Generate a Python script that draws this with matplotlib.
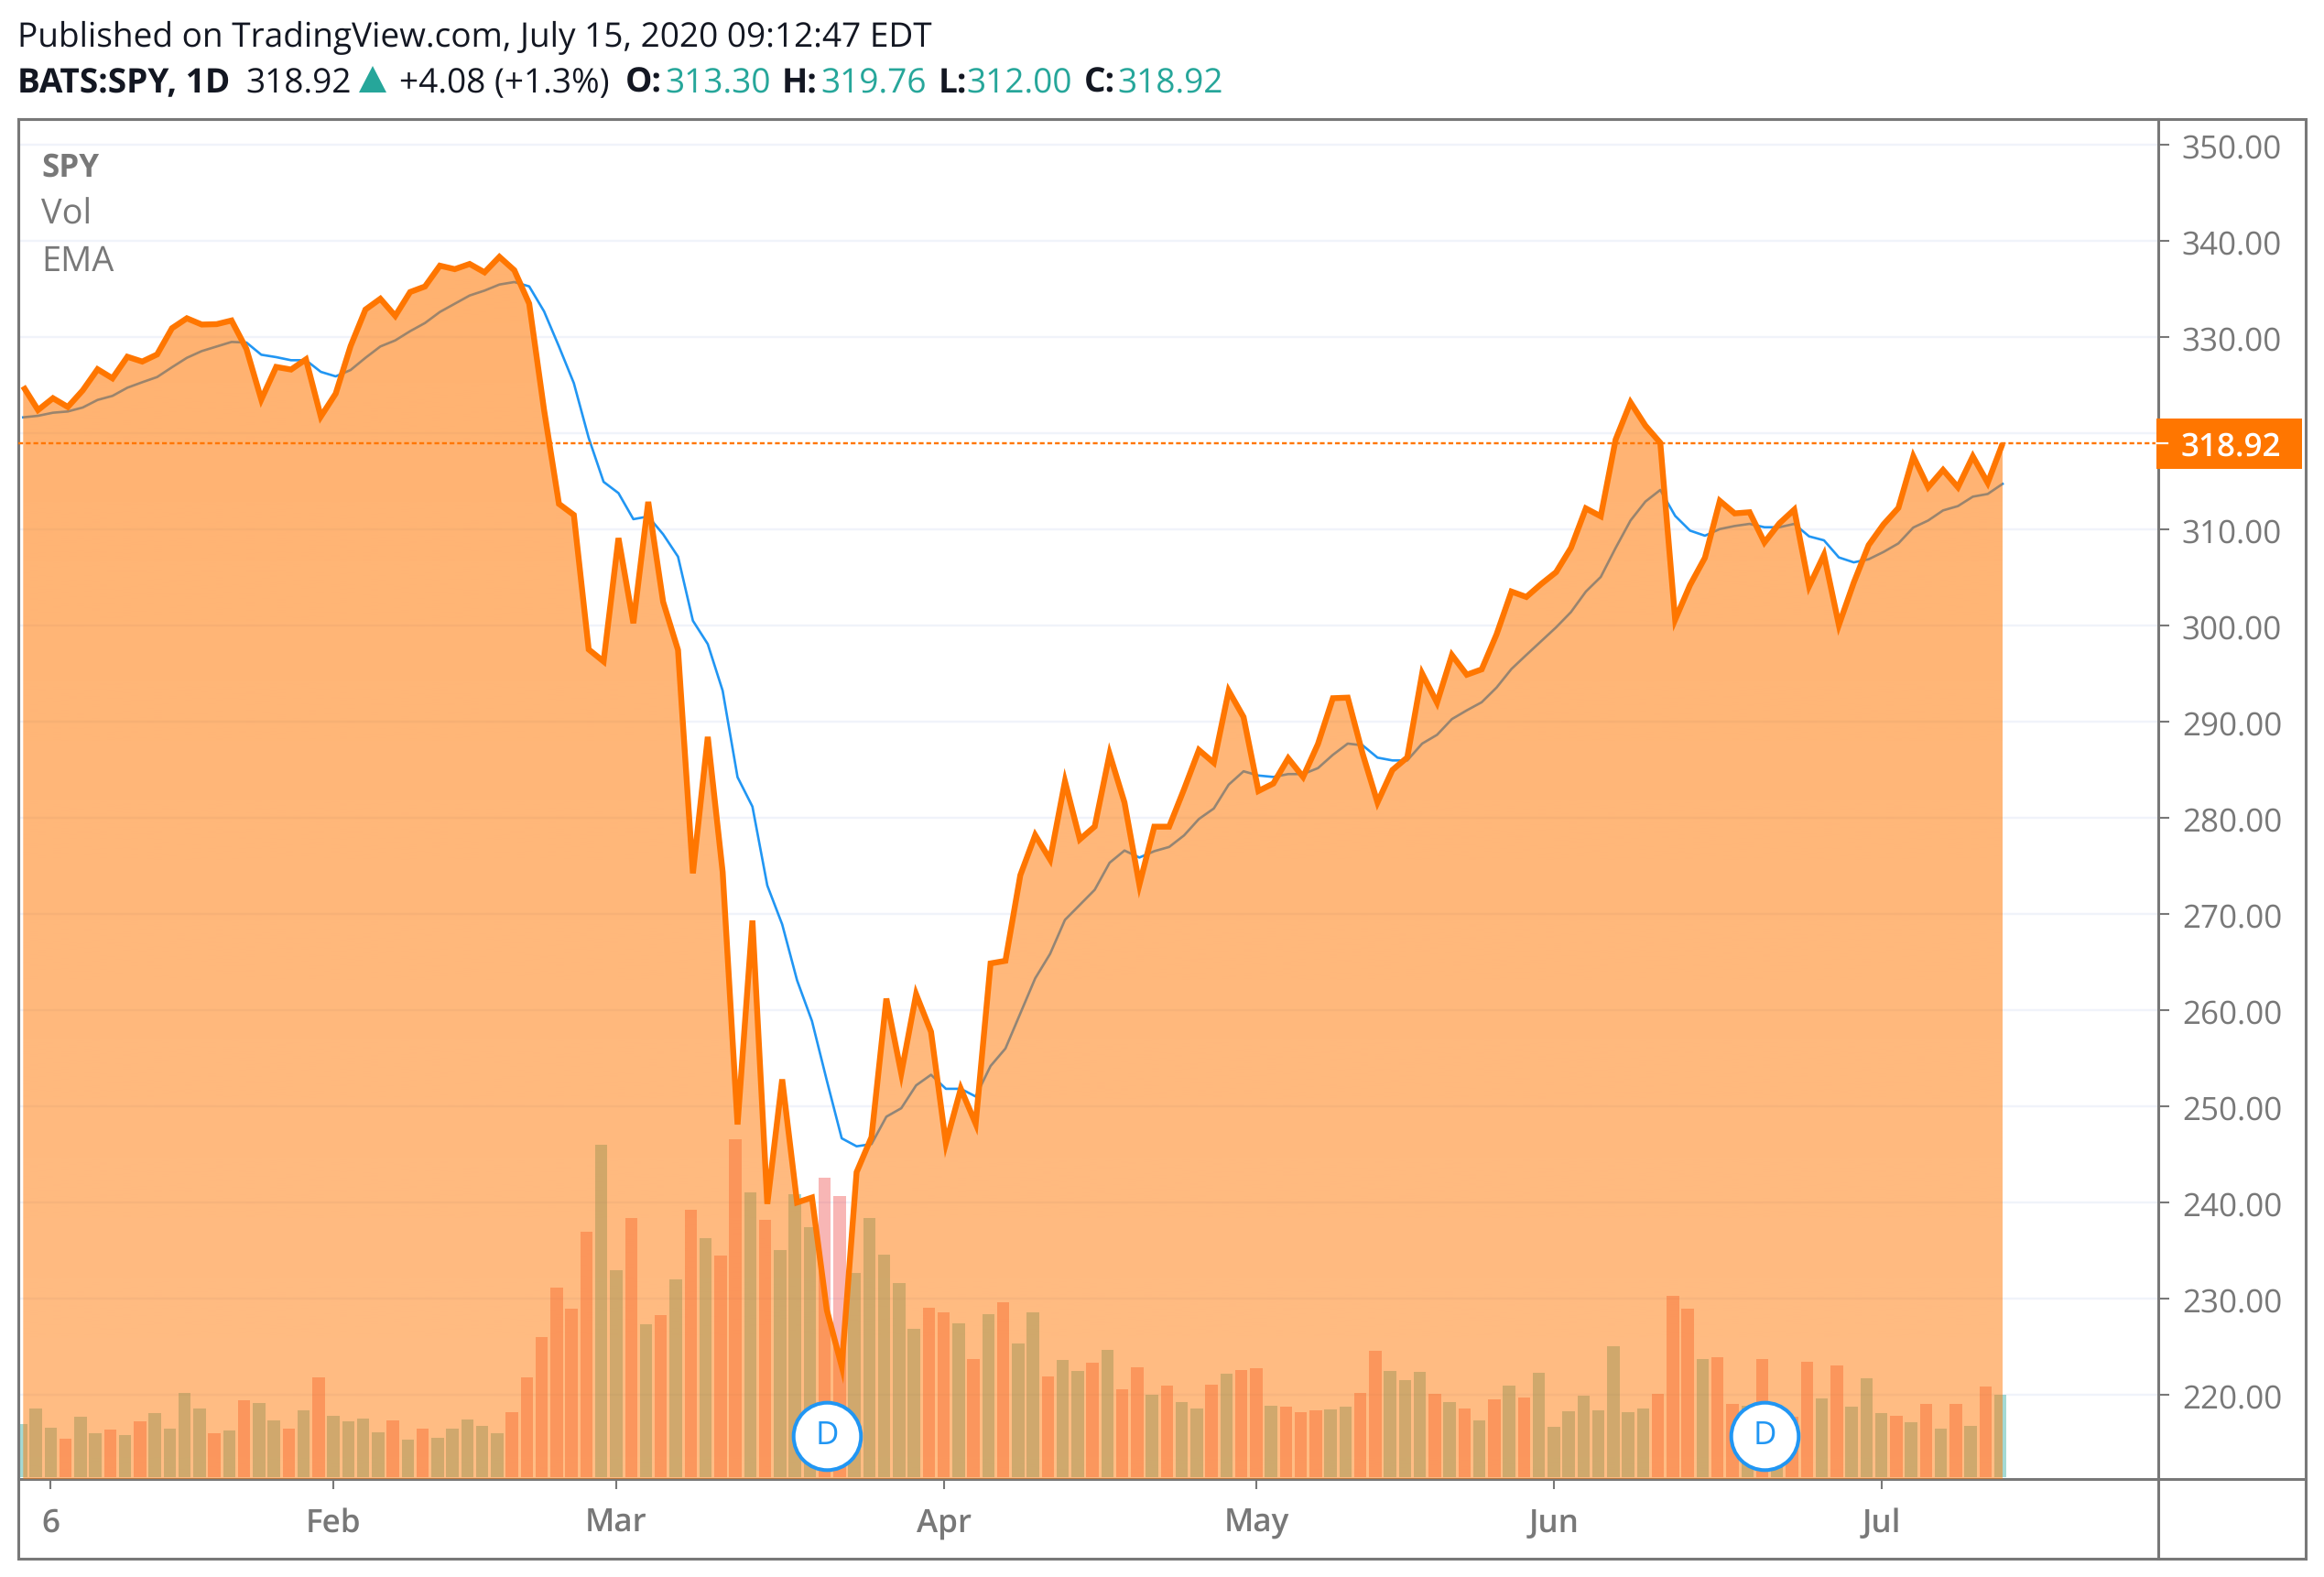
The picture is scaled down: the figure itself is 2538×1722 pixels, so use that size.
import numpy as np
import matplotlib
matplotlib.use("Agg")
import matplotlib.pyplot as plt
from matplotlib.patches import Rectangle, Polygon
from matplotlib.transforms import ScaledTranslation

W, H = 2538, 1722

# ---- data ----
close = [324.87,322.41,323.64,322.73,324.45,326.65,325.71,327.95,327.45,328.19,330.92,331.95,331.30,331.34,331.72,328.77,323.50,326.89,326.62,327.68,321.73,
         324.12,329.06,332.86,333.98,332.20,334.68,335.26,337.42,337.06,337.60,336.73,338.34,336.95,333.48,322.42,312.65,311.50,297.51,296.26,
         309.09,300.24,312.86,302.46,297.46,274.23,288.42,274.36,248.11,269.32,239.85,252.80,240.00,240.51,228.80,222.95,243.15,246.79,261.20,253.42,261.65,257.75,
         246.15,251.83,248.19,264.86,265.13,274.03,278.20,275.66,283.79,277.76,279.10,286.64,281.59,273.04,279.08,279.08,282.97,287.05,285.73,293.21,290.48,
         282.79,283.57,286.19,284.25,287.68,292.44,292.50,286.67,281.60,284.97,286.28,295.00,291.97,296.93,294.88,295.44,299.08,303.53,302.97,304.32,
         305.55,308.08,312.18,311.36,319.34,323.20,320.79,319.00,300.61,304.21,307.05,312.96,311.66,311.78,308.64,310.62,312.05,304.09,307.35,300.05,304.46,308.36,
         310.52,312.23,317.59,314.38,316.18,314.38,317.59,314.84,318.92]

ema = [321.65,321.81,322.13,322.26,322.67,323.46,323.88,324.73,325.30,325.84,
       326.86,327.84,328.54,329.02,329.49,329.43,328.16,327.91,327.59,327.59,
       326.38,325.91,326.57,327.84,329.02,329.65,330.61,331.46,332.61,333.46,
       334.32,334.83,335.46,335.72,335.27,332.67,329.02,325.21,319.50,314.94,
       313.77,311.06,311.34,309.49,307.16,300.50,298.07,293.22,284.23,281.17,
       272.96,268.92,263.10,258.87,252.67,246.67,245.84,246.07,248.92,249.80,
       252.18,253.28,251.82,251.82,251.02,254.19,256.01,259.66,263.31,265.85,
       269.39,270.95,272.52,275.33,276.60,275.87,276.53,276.97,278.17,279.88,
       280.97,283.45,284.84,284.40,284.25,284.55,284.55,285.17,286.55,287.72,
       287.54,286.26,285.97,285.97,287.72,288.63,290.27,291.18,292.02,293.55,
       295.48,296.94,298.38,299.81,301.40,303.53,305.05,308.07,310.92,312.89,
       314.10,311.40,309.87,309.34,310.03,310.35,310.57,310.22,310.22,310.57,
       309.27,308.86,307.08,306.57,306.89,307.65,308.54,310.19,310.92,311.97,
       312.42,313.40,313.68,314.73]

volume = [58,75,54,42,66,48,52,46,61,70,
          53,92,75,48,51,84,81,62,53,73,
          109,67,61,64,49,62,41,53,43,53,
          63,56,48,71,109,153,207,184,268,363,
          226,283,167,177,216,292,261,242,369,311,
          281,248,309,273,327,307,223,283,243,212,
          162,185,180,168,129,178,191,146,180,110,
          128,116,125,139,96,120,90,100,82,75,
          101,113,117,119,78,77,71,73,74,77,
          92,138,116,106,115,91,82,75,62,85,
          100,87,114,55,72,89,73,143,71,75,
          91,198,184,129,131,80,78,129,67,66,
          126,86,122,77,108,70,67,60,80,53,
          80,56,99,90]

direction = list("UUUDUUDUDU" "UUUDUDUUDU" "DUUUUDUDUU" "UUUDDDDDDU" "UDUDUDUDDU"
                 "DUUUDDUUUU" "UDDUDUDUUD" "UUDUDDUDUU" "DUDDUDDDUU" "DDUUUDUDUD"
                 "UDUUUUUUUU" "DDDUDDUDUD" "DUDUUUDUDU" "DUDU")

month_ticks = [2, 21, 40, 62, 83, 103, 125]
month_labels = ["6", "Feb", "Mar", "Apr", "May", "Jun", "Jul"]
price_ticks = list(range(220, 351, 10))
dividend_idx = [54, 117]
dividend_price = [215.7, 215.7]
last_price = 318.92

# ---- style ----
plt.rcParams["font.family"] = ["Open Sans", "DejaVu Sans"]
plt.rcParams["text.hinting"] = "no_hinting"
plt.rcParams["text.hinting_factor"] = 1
GRAY = "#787878"
ORANGE = "#FF7600"
BLUE = "#2196F3"
TEAL = "#26A69A"
INK = "#131722"

fig = plt.figure(figsize=(W / 100, H / 100), dpi=100, facecolor="white")

def fx(x):
    return x / W

def fy(y):
    return 1 - y / H

L, R, T, B = 20, 2357, 130, 1615
rect = [fx(L), fy(B), (R - L) / W, (B - T) / H]
ax = fig.add_axes(rect)
axv = ax.twinx()
axg = ax.twinx()

n = len(close)
idx = np.arange(n)
bar_shift = -0.15
ylim = (211.24, 352.67)
xlim = (-0.326, 143.46)

axg.set_zorder(0)
axv.set_zorder(1)
ax.set_zorder(2)
ax.patch.set_visible(False)

# grid on the lowest layer
for p in price_ticks:
    axg.axhline(p, color="#F0F3FA", lw=1.7)
axg.set_ylim(*ylim)
axg.set_axis_off()

# volume
vol_colors = [(38/255, 166/255, 154/255, 0.42) if d == "U" else (239/255, 83/255, 80/255, 0.42) for d in direction]
axv.bar(idx + bar_shift, volume, width=0.83, color=vol_colors, linewidth=0)
axv.set_ylim(-2, B - T - 2)
axv.set_axis_off()

# EMA beneath the area
ax.plot(idx, ema, color=BLUE, lw=1.9, zorder=3, solid_joinstyle="round")

# area with vertical gradient
poly = ax.fill_between(idx, close, ylim[0], color="none", linewidth=0)
alpha = np.linspace(0.565, 0.485, 256)
grad = np.zeros((256, 1, 4))
grad[..., 0] = 1.0
grad[..., 1] = 118 / 255
grad[..., 2] = 0.0
grad[:, 0, 3] = alpha
im = ax.imshow(grad, extent=(0, n - 1, ylim[0], max(close)), aspect="auto", origin="upper",
               zorder=4, interpolation="bilinear")
im.set_clip_path(poly.get_paths()[0], ax.transData)

# price line
ax.plot(idx, close, color=ORANGE, lw=4.6, zorder=5, solid_joinstyle="miter", solid_capstyle="butt")
ax.axhline(last_price, color=ORANGE, lw=1.7, linestyle=(0, (2.2, 1.3)), zorder=6)

# dividend marks
ax.plot(dividend_idx, dividend_price, "o", ms=53, mfc="white", mec=BLUE, mew=2.9, zorder=7, clip_on=False)
for i, p in zip(dividend_idx, dividend_price):
    ax.text(i, p, "D", color=BLUE, fontsize=25, ha="center", va="center", zorder=8)

ax.set_xlim(*xlim)
ax.set_ylim(*ylim)
axv.set_xlim(*xlim)

ax.yaxis.tick_right()
ax.set_yticks(price_ticks)
# the 320.00 label sits behind the last-price tag in the reference
ax.set_yticklabels(["" if p == 320 else f"{p:.2f}" for p in price_ticks])
ax.set_xticks(np.array(month_ticks) + bar_shift)
ax.set_xticklabels(month_labels)
ax.tick_params(axis="y", length=8.6, width=1.5, color=GRAY, labelcolor=GRAY, labelsize=25.5, pad=10)
ax.tick_params(axis="x", length=8, width=1.5, color=GRAY, labelcolor=GRAY, labelsize=25, pad=14.5)
for lab in ax.get_xticklabels():
    lab.set_fontweight("semibold")
shift = ScaledTranslation(0, -1.5 / 100, fig.dpi_scale_trans)
for lab in ax.get_yticklabels():
    lab.set_transform(lab.get_transform() + shift)
for s in ax.spines.values():
    s.set_color(GRAY)
    s.set_linewidth(2.2)

# outer frame
fig.add_artist(Rectangle((fx(20), fy(1702)), (2518 - 20) / W, (1702 - 130) / H, fill=False,
                         edgecolor=GRAY, linewidth=2.2, transform=fig.transFigure))
fig.add_artist(plt.Line2D([fx(R), fx(R)], [fy(1615), fy(1702)], color=GRAY, lw=2.2, transform=fig.transFigure))
fig.add_artist(plt.Line2D([fx(R), fx(2518)], [fy(1615), fy(1615)], color=GRAY, lw=2.2, transform=fig.transFigure))

# last-price label
fig.add_artist(Rectangle((fx(2355), fy(512)), (2514 - 2355) / W, (512 - 457) / H, facecolor=ORANGE,
                         edgecolor="none", transform=fig.transFigure, zorder=10))
fig.add_artist(plt.Line2D([fx(2355), fx(2367)], [fy(484), fy(484)], color="white", lw=1.6,
                          transform=fig.transFigure, zorder=11))
fig.text(fx(2436), fy(497), "318.92", color="white", fontsize=25.5, fontweight="semibold", ha="center", va="baseline", zorder=11)

# legend texts
fig.text(fx(45), fy(193), "SPY", color=GRAY, fontsize=25.5, fontweight="bold", va="baseline")
fig.text(fx(45), fy(245), "Vol", color=GRAY, fontsize=27.5, va="baseline")
fig.text(fx(45), fy(296), "EMA", color=GRAY, fontsize=27.5, va="baseline")

# header
fig.text(fx(19), fy(51), "Published on TradingView.com, July 15, 2020 09:12:47 EDT", color=INK, fontsize=26.5, va="baseline")
row = [(19, "BATS:SPY, 1D", INK, "bold"), (268, "318.92", INK, "normal"), (436, "+4.08 (+1.3%)", INK, "normal"),
       (682.6, "O:", INK, "bold"), (726, "313.30", TEAL, "normal"), (854, "H:", INK, "bold"), (896, "319.76", TEAL, "normal"),
       (1024.5, "L:", INK, "bold"), (1055.6, "312.00", TEAL, "normal"), (1184, "C:", INK, "bold"), (1220, "318.92", TEAL, "normal")]
for x0, s, c, w in row:
    fig.text(fx(x0), fy(101), s, color=c, fontsize=26.3, fontweight=w, va="baseline")
fig.add_artist(Polygon([(fx(392), fy(101)), (fx(422), fy(101)), (fx(407), fy(72))], closed=True,
                       facecolor=TEAL, edgecolor="none", transform=fig.transFigure))

fig.savefig("out.png", dpi=100)
